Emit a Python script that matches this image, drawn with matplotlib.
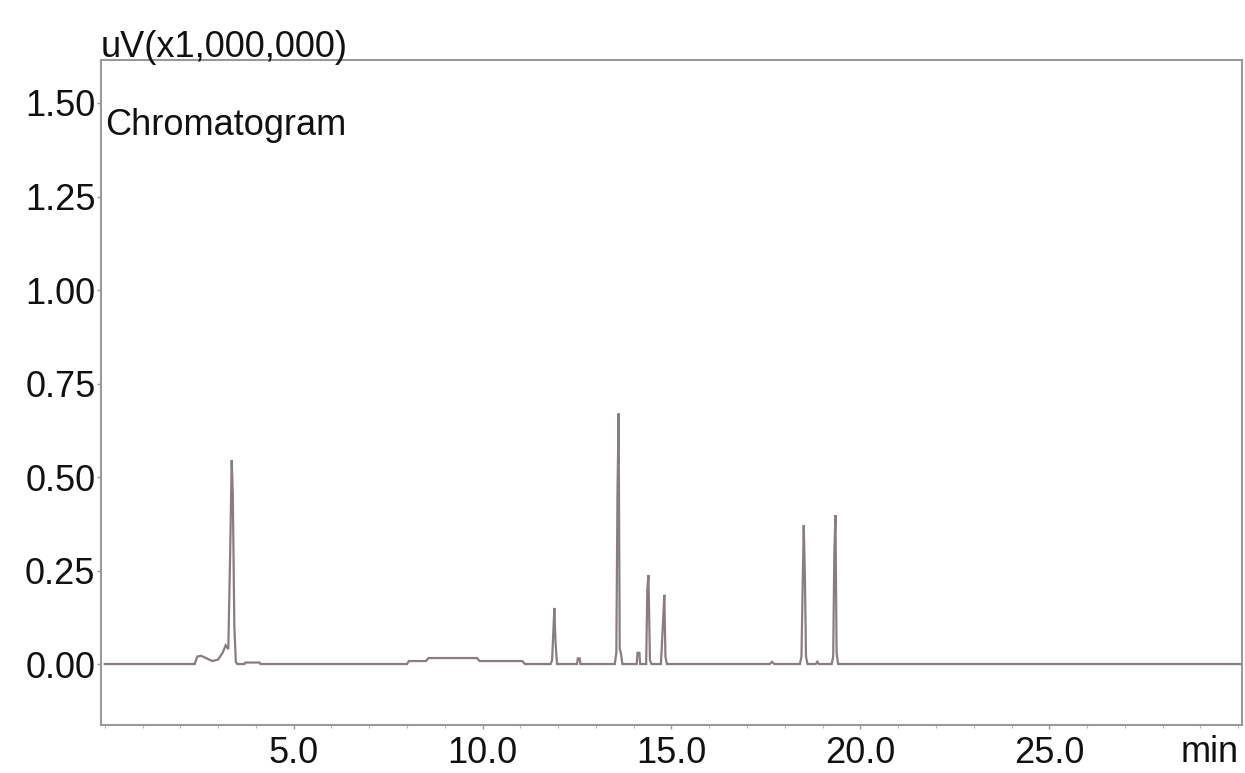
import matplotlib
matplotlib.use("Agg")
import matplotlib.pyplot as plt
from matplotlib.ticker import MultipleLocator

plt.rcParams['font.family'] = ['Liberation Sans', 'DejaVu Sans']

# Chromatogram trace: time (min), signal (uV x 1,000,000)
time_min = [0.0, 2.38, 2.45, 2.55, 2.7, 2.85, 3.0, 3.12, 3.2, 3.27, 3.32, 3.36, 3.39, 3.43, 3.47, 3.51,
            3.7, 3.72, 4.1, 4.12,
            8.0, 8.05, 8.5, 8.57, 9.85, 9.92, 11.05, 11.12,
            11.8, 11.84, 11.87, 11.9, 11.93, 11.97,
            12.5, 12.52, 12.57, 12.59,
            13.5, 13.54, 13.57, 13.6, 13.63, 13.66, 13.7,
            14.08, 14.1, 14.15, 14.17,
            14.33, 14.36, 14.39, 14.43, 14.47,
            14.72, 14.77, 14.81, 14.84, 14.88,
            17.6, 17.66, 17.72,
            18.4, 18.44, 18.47, 18.5, 18.53, 18.56, 18.6,
            18.82, 18.86, 18.9,
            19.24, 19.28, 19.31, 19.34, 19.37, 19.41,
            30.2]
signal = [0.0, 0.0, 0.02, 0.022, 0.015, 0.008, 0.012, 0.03, 0.05, 0.04, 0.3, 0.545, 0.45, 0.1, 0.005, 0.0,
          0.0, 0.004, 0.004, 0.0,
          0.0, 0.008, 0.008, 0.016, 0.016, 0.008, 0.008, 0.0,
          0.0, 0.01, 0.08, 0.15, 0.06, 0.0,
          0.0, 0.015, 0.015, 0.0,
          0.0, 0.03, 0.45, 0.67, 0.04, 0.03, 0.0,
          0.0, 0.03, 0.03, 0.0,
          0.0, 0.2, 0.238, 0.01, 0.0,
          0.0, 0.1, 0.185, 0.02, 0.0,
          0.0, 0.006, 0.0,
          0.0, 0.02, 0.2, 0.371, 0.24, 0.02, 0.0,
          0.0, 0.006, 0.0,
          0.0, 0.02, 0.3, 0.398, 0.03, 0.0,
          0.0]

x_ticks = [5.0, 10.0, 15.0, 20.0, 25.0]
x_tick_labels = ["5.0", "10.0", "15.0", "20.0", "25.0"]
y_ticks = [0.0, 0.25, 0.5, 0.75, 1.0, 1.25, 1.5]
y_tick_labels = ["0.00", "0.25", "0.50", "0.75", "1.00", "1.25", "1.50"]

fig = plt.figure(figsize=(12.45, 7.73), dpi=100)
ax = fig.add_axes([0.0811, 0.0621, 0.9165, 0.8603])

ax.plot(time_min, signal, color="#887e7e", lw=1.6, solid_joinstyle="miter")

ax.set_xlim(-0.1, 30.1)
ax.set_ylim(-0.163, 1.615)

ax.set_xticks(x_ticks)
ax.set_xticklabels(x_tick_labels)
ax.set_yticks(y_ticks)
ax.set_yticklabels(y_tick_labels)
ax.xaxis.set_minor_locator(MultipleLocator(1.0))

for s in ax.spines.values():
    s.set_color("#9a9a9a")
    s.set_linewidth(1.5)

ax.tick_params(axis="both", which="major", labelsize=26, colors="#9a9a9a",
               labelcolor="#111111", direction="out", length=3, width=1.0)
ax.tick_params(axis="x", which="major", pad=5)
ax.tick_params(axis="y", which="major", pad=1)
ax.tick_params(axis="x", which="minor", direction="out", length=2.5, width=0.8, colors="#b5b5b5")

ax.text(0.0, 1.0045, "uV(x1,000,000)", transform=ax.transAxes, fontsize=26,
        ha="left", va="baseline", color="#111111")
ax.text(0.004, 0.887, "Chromatogram", transform=ax.transAxes, fontsize=26,
        ha="left", va="baseline", color="#111111")
ax.text(0.972, -0.015, "min", transform=ax.transAxes, fontsize=26,
        ha="center", va="top", color="#111111")

fig.savefig("out.png", dpi=100)
